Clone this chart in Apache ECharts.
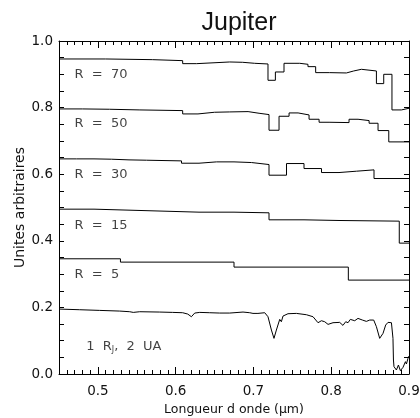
<!DOCTYPE html>
<html>
<head>
<meta charset="utf-8">
<script src="https://cdn.jsdelivr.net/npm/echarts@6/dist/echarts.min.js"></script>
<style>
  html, body { margin: 0; padding: 0; background: #fff; }
  #chart { width: 420px; height: 418px; }
</style>
</head>
<body>
<div id="chart"></div>
<script>
// bin edges (last one closes the final bin) and bin values
const r70Edges = [0.45, 0.51, 0.57, 0.609, 0.627, 0.6695, 0.6862, 0.7016, 0.7187, 0.7282, 0.7393, 0.7595, 0.7701, 0.78, 0.798, 0.8195, 0.8289, 0.8388, 0.8581, 0.8675, 0.8781, 0.8902, 0.9];
const r70Vals = [0.946, 0.944, 0.941, 0.932, 0.937, 0.936, 0.933, 0.931, 0.882, 0.907, 0.933, 0.930, 0.923, 0.905, 0.904, 0.910, 0.915, 0.910, 0.872, 0.900, 0.793, 0.798];

const r50Edges = [0.45, 0.48, 0.515, 0.554, 0.609, 0.6287, 0.65, 0.6695, 0.6931, 0.7072, 0.72, 0.7329, 0.7458, 0.7574, 0.7715, 0.7844, 0.7972, 0.8229, 0.8345, 0.8487, 0.8602, 0.874, 0.9];
const r50Vals = [0.796, 0.795, 0.793, 0.791, 0.781, 0.786, 0.787, 0.788, 0.783, 0.779, 0.732, 0.774, 0.784, 0.778, 0.765, 0.756, 0.755, 0.765, 0.761, 0.753, 0.731, 0.697];

const r30Edges = [0.45, 0.4725, 0.495, 0.5175, 0.54, 0.5625, 0.585, 0.6075, 0.63, 0.6525, 0.675, 0.6975, 0.72, 0.7425, 0.765, 0.7875, 0.81, 0.8325, 0.855, 0.9];
const r30Vals = [0.646, 0.646, 0.645, 0.643, 0.642, 0.641, 0.640, 0.633, 0.637, 0.637, 0.635, 0.629, 0.597, 0.632, 0.617, 0.605, 0.609, 0.613, 0.587];

const r15Edges = [0.45, 0.495, 0.54, 0.585, 0.63, 0.675, 0.72, 0.765, 0.81, 0.8875, 0.9];
const r15Vals = [0.495, 0.492, 0.489, 0.486, 0.486, 0.484, 0.463, 0.461, 0.459, 0.393];

const r5Edges = [0.45, 0.529, 0.675, 0.822, 0.9];
const r5Vals = [0.346, 0.336, 0.321, 0.282];

// full resolution spectrum, 1 R_J at 2 UA
const specX = [0.45, 0.4766, 0.5023, 0.528, 0.541, 0.5455, 0.5538, 0.5795, 0.5962, 0.609, 0.6155, 0.6202, 0.6245, 0.631, 0.6438, 0.6566, 0.6695, 0.6866, 0.6952, 0.6994, 0.7016, 0.7058, 0.7145, 0.7187, 0.7231, 0.7264, 0.7295, 0.7338, 0.7359, 0.738, 0.7444, 0.7552, 0.7681, 0.7766, 0.783, 0.7874, 0.7916, 0.7959, 0.8023, 0.8109, 0.8151, 0.8186, 0.8216, 0.8246, 0.8302, 0.8344, 0.8401, 0.8452, 0.8495, 0.8546, 0.8581, 0.8623, 0.8666, 0.870, 0.873, 0.8752, 0.8774, 0.8794, 0.880, 0.8807, 0.8838, 0.8864, 0.8889, 0.8923, 0.8954, 0.8967, 0.8987, 0.9];
const specY = [0.195, 0.193, 0.191, 0.189, 0.187, 0.185, 0.187, 0.186, 0.185, 0.184, 0.180, 0.172, 0.183, 0.185, 0.184, 0.183, 0.183, 0.186, 0.184, 0.182, 0.178, 0.182, 0.184, 0.172, 0.132, 0.107, 0.132, 0.164, 0.157, 0.174, 0.181, 0.182, 0.178, 0.172, 0.154, 0.160, 0.157, 0.149, 0.154, 0.155, 0.146, 0.157, 0.154, 0.164, 0.160, 0.167, 0.162, 0.158, 0.162, 0.162, 0.142, 0.107, 0.122, 0.147, 0.155, 0.152, 0.154, 0.107, 0.042, 0.022, 0.012, 0.027, 0.010, 0.020, 0.037, 0.030, 0.047, 0.054];

// curve annotations
const noteText = ['R  =  70', 'R  =  50', 'R  =  30', 'R  =  15', 'R  =  5', '1  R{sub|J},  2  UA'];
const noteX = [0.470, 0.470, 0.470, 0.470, 0.470, 0.485];
const noteY = [0.899, 0.751, 0.598, 0.447, 0.297, 0.082];

const xMajor = [0.5, 0.6, 0.7, 0.8, 0.9];

const FONT = 'DejaVu Sans';
const INK = '#111';
const GRID = { left: 59, right: 11, top: 41, bottom: 44, containLabel: false, outerBoundsMode: 'none' };

function stepData(edges, vals) {
  const d = vals.map((v, i) => [edges[i], v]);
  d.push([edges[edges.length - 1], vals[vals.length - 1]]);
  return d;
}

function stepSeries(edges, vals) {
  return {
    type: 'line',
    step: 'end',
    data: stepData(edges, vals),
    showSymbol: false,
    lineStyle: { color: '#000', width: 1 },
    xAxisIndex: 0,
    yAxisIndex: 0
  };
}

function xAxisDef(grid, pos, extra) {
  return Object.assign({
    type: 'value', gridIndex: grid, position: pos, min: 0.45, max: 0.9,
    splitLine: { show: false },
    axisLine: { show: false, onZero: false }
  }, extra);
}

const chart = echarts.init(document.getElementById('chart'));

chart.setOption({
  animation: false,
  backgroundColor: '#fff',
  title: {
    text: 'Jupiter',
    left: 234,
    textAlign: 'center',
    top: 6,
    textStyle: { fontFamily: 'Liberation Sans', fontSize: 25, fontWeight: 'normal', color: INK }
  },
  // second grid on the same rectangle only carries the 0.01 minor ticks
  grid: [GRID, Object.assign({}, GRID)],
  xAxis: [
    xAxisDef(0, 'bottom', {
      axisLine: { show: true, onZero: false, lineStyle: { color: '#000', width: 1 } },
      axisTick: { show: true, inside: true, length: 7, customValues: xMajor, lineStyle: { color: '#000' } },
      axisLabel: {
        customValues: xMajor, margin: 10, color: INK, fontFamily: FONT, fontSize: 13.5,
        formatter: v => v.toFixed(1)
      },
      name: 'Longueur d onde (μm)',
      nameLocation: 'middle',
      nameGap: 27,
      nameTextStyle: { fontFamily: FONT, fontSize: 12.5, color: INK }
    }),
    xAxisDef(0, 'top', {
      axisLine: { show: true, onZero: false, lineStyle: { color: '#000', width: 1 } },
      axisTick: { show: true, inside: true, length: 7, customValues: xMajor, lineStyle: { color: '#000' } },
      axisLabel: { show: false }
    }),
    xAxisDef(1, 'bottom', {
      interval: 0.01,
      axisTick: { show: true, inside: true, length: 4, lineStyle: { color: '#000' } },
      axisLabel: { show: false }
    }),
    xAxisDef(1, 'top', {
      interval: 0.01,
      axisTick: { show: true, inside: true, length: 4, lineStyle: { color: '#000' } },
      axisLabel: { show: false }
    })
  ],
  yAxis: [
    {
      type: 'value', gridIndex: 0, min: 0, max: 1, interval: 0.2, position: 'left',
      splitLine: { show: false },
      axisLine: { show: true, onZero: false, lineStyle: { color: '#000', width: 1 } },
      axisTick: { show: true, inside: true, length: 5, lineStyle: { color: '#000' } },
      minorTick: { show: true, splitNumber: 4, length: 5, lineStyle: { color: '#000' } },
      axisLabel: { margin: 6, color: INK, fontFamily: FONT, fontSize: 13.5, formatter: v => v.toFixed(1) },
      name: 'Unites arbitraires',
      nameLocation: 'middle',
      nameGap: 32,
      nameMoveOverlap: false,
      nameTextStyle: { fontFamily: FONT, fontSize: 14, color: INK }
    },
    {
      type: 'value', gridIndex: 0, min: 0, max: 1, interval: 0.2, position: 'right',
      splitLine: { show: false },
      axisLine: { show: true, onZero: false, lineStyle: { color: '#000', width: 1 } },
      axisTick: { show: true, inside: true, length: 5, lineStyle: { color: '#000' } },
      minorTick: { show: true, splitNumber: 4, length: 5, lineStyle: { color: '#000' } },
      axisLabel: { show: false }
    },
    {
      type: 'value', gridIndex: 1, min: 0, max: 1, show: false
    }
  ],
  series: [
    stepSeries(r70Edges, r70Vals),
    stepSeries(r50Edges, r50Vals),
    stepSeries(r30Edges, r30Vals),
    stepSeries(r15Edges, r15Vals),
    stepSeries(r5Edges, r5Vals),
    {
      type: 'line',
      data: specX.map((x, i) => [x, specY[i]]),
      showSymbol: false,
      lineStyle: { color: '#000', width: 1 },
      xAxisIndex: 0,
      yAxisIndex: 0
    },
    {
      type: 'scatter',
      symbolSize: 0,
      silent: true,
      xAxisIndex: 0,
      yAxisIndex: 0,
      data: noteText.map((t, i) => ({ value: [noteX[i], noteY[i]], name: t })),
      label: {
        show: true,
        position: 'right',
        distance: 0,
        formatter: p => p.name,
        color: INK,
        fontFamily: FONT,
        fontSize: 13,
        rich: {
          sub: { fontFamily: FONT, fontSize: 8, color: INK, verticalAlign: 'bottom', padding: [6, 0, 0, 0] }
        }
      }
    }
  ]
});
</script>
</body>
</html>
